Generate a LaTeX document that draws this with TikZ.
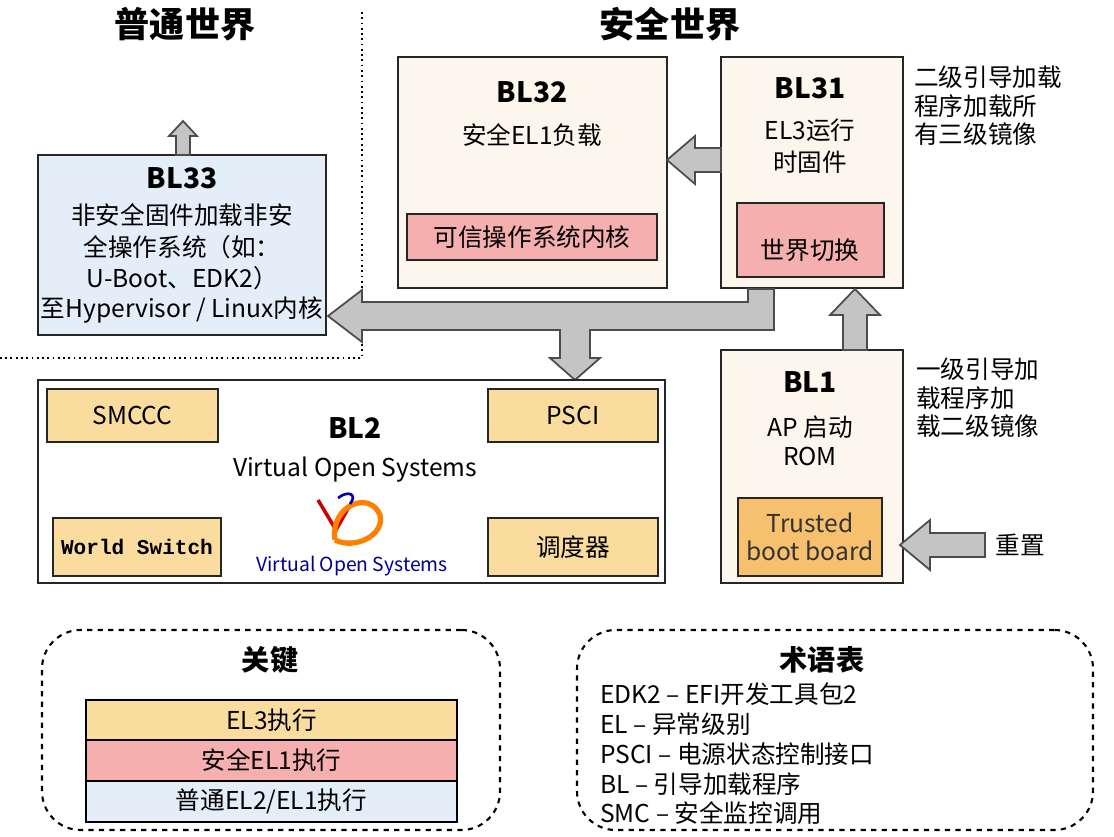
\documentclass[tikz,border=0pt]{standalone}
\usepackage{fontspec}
\setmainfont{Noto Sans CJK SC}
\newfontfamily\monof{Liberation Mono}
\usetikzlibrary{fit}
\definecolor{cream}{HTML}{FDF6EC}
\definecolor{lblue}{HTML}{E4EEF9}
\definecolor{lpink}{HTML}{F6AFAF}
\definecolor{lorange}{HTML}{F9DC9E}
\definecolor{dorange}{HTML}{F7C06E}
\definecolor{agray}{HTML}{C4C4C4}
\tikzset{
  box/.style={draw=black!85, line width=1.2pt, inner sep=0pt},
  ttl/.style={font=\fontsize{16}{18}\selectfont\bfseries},
  txt/.style={font=\fontsize{14}{16}\selectfont},
  hdr/.style={font=\fontsize{20}{22}\selectfont\bfseries},
  barr/.style={fill=agray, draw=black!70, line width=1pt, line join=miter},
  dashbox/.style={draw, dashed, line width=1.2pt, rounded corners=22pt}
}
\begin{document}
\begin{tikzpicture}[x=0.02cm,y=-0.02cm]
\useasboundingbox (0,0) rectangle (1114,837);
% headers and world divider
\node[hdr] (hn) at (185,24) {普通世界};
\node[hdr] (hs) at (670,24) {安全世界};
\draw[dotted, line width=1pt] (362,12) -- (362,358) -- (0,358);
% BL33
\node[box, fill=lblue, fit={(38,155) (326,335)}] (bl33) {};
\node[ttl] at (182,178) {BL33};
\node[txt] at (182,215) {非安全固件加载非安};
\node[txt] at (182,247) {全操作系统（如：};
\node[txt] at (182,278) {U-Boot、EDK2）};
\node[txt] at (182,310) {至Hypervisor / Linux内核};
\draw[barr] (176,155) -- (176,136) -- (169,136) -- (183,121) -- (197,136) -- (190,136) -- (190,155) -- cycle;
% BL32
\node[box, fill=cream, fit={(398,57) (667,288)}] (bl32) {};
\node[ttl] at (532,92) {BL32};
\node[txt] at (532,135) {安全EL1负载};
\node[box, fill=lpink, line width=0.8pt, fit={(407,214) (657,260)}] (tos) {};
\node[txt] at (tos) {可信操作系统内核};
% BL31
\node[box, fill=cream, fit={(721,57) (903,288)}] (bl31) {};
\node[ttl] at (810,88) {BL31};
\node[txt] at (810,130) {EL3运行};
\node[txt] at (810,162) {时固件};
\node[box, fill=lpink, line width=0.8pt, fit={(737,203) (884,277)}] (ws) {};
\node[txt] at (810,250) {世界切换};
\node[txt, align=left, anchor=north west] at (908,60) {二级引导加载\\程序加载所\\有三级镜像};
\draw[barr] (721,148) -- (695,148) -- (695,136) -- (667,160) -- (695,184) -- (695,172) -- (721,172) -- cycle;
% big L-arrow
\draw[barr] (748,289) -- (774,289) -- (774,330) -- (590,330) -- (590,358) -- (600,358) -- (575,380) -- (550,358) -- (560,358) -- (560,330) -- (362,330) -- (362,342) -- (328,316) -- (362,290) -- (362,302) -- (748,302) -- cycle;
% BL2
\node[box, fill=white, fit={(38,380) (665,583)}] (bl2) {};
\node[ttl] at (355,428) {BL2};
\node[txt] at (355,470) {Virtual Open Systems};
\node[box, fill=lorange, line width=0.8pt, fit={(47,389) (218,442)}] (smccc) {};
\node[txt] at (smccc) {SMCCC};
\node[box, fill=lorange, line width=0.8pt, fit={(488,389) (658,442)}] (psci) {};
\node[txt] at (psci) {PSCI};
\node[box, fill=lorange, line width=0.8pt, fit={(53,518) (221,576)}] (wsw) {};
\node[font=\monof\bfseries\fontsize{12}{14}\selectfont] at (wsw) {World Switch};
\node[box, fill=lorange, line width=0.8pt, fit={(488,518) (658,576)}] (sched) {};
\node[txt] at (sched) {调度器};
% logo
\draw[red!80!black, line width=2pt] (318,500) -- (336,530) -- (350,505);
\draw[orange, line width=3pt] (335,540) .. controls (330,505) and (370,490) .. (380,515) .. controls (385,535) and (355,550) .. (335,540);
\draw[blue!70!black, line width=1.5pt] (338,498) .. controls (348,490) and (358,494) .. (350,504);
\node[font=\fontsize{11}{13}\selectfont, text=blue!55!black] at (352,566) {Virtual Open Systems};
% BL1
\node[box, fill=cream, fit={(721,350) (903,583)}] (bl1) {};
\node[ttl] at (810,382) {BL1};
\node[txt] at (810,427) {AP 启动};
\node[txt] at (810,456) {ROM};
\node[box, fill=dorange, line width=0.8pt, fit={(738,498) (882,576)}] (tbb) {};
\node[txt, align=center, text=black!80] at (tbb) {Trusted\\boot board};
\node[txt, align=left, anchor=north west] at (910,352) {一级引导加\\载程序加\\载二级镜像};
\draw[barr] (843,350) -- (843,315) -- (830,315) -- (855,289) -- (880,315) -- (867,315) -- (867,350) -- cycle;
\node[txt] (rst) at (1020,545) {重置};
\draw[barr] (985,533) -- (930,533) -- (930,520) -- (900,545) -- (930,570) -- (930,557) -- (985,557) -- cycle;
% key
\node[dashbox, fit={(42,630) (500,830)}, inner sep=0pt] (key) {};
\node[ttl] at (270,660) {关键};
\node[draw, line width=0.8pt, fill=lorange, fit={(86,700) (457,740)}, inner sep=0pt] (k1) {};
\node[txt] at (k1) {EL3执行};
\node[draw, line width=0.8pt, fill=lpink, fit={(86,740) (457,781)}, inner sep=0pt] (k2) {};
\node[txt] at (k2) {安全EL1执行};
\node[draw, line width=0.8pt, fill=lblue, fit={(86,781) (457,822)}, inner sep=0pt] (k3) {};
\node[txt] at (k3) {普通EL2/EL1执行};
% glossary
\node[dashbox, fit={(577,630) (1093,830)}, inner sep=0pt] (glo) {};
\node[ttl] at (822,660) {术语表};
\node[txt, anchor=west] at (594,694) {EDK2 – EFI开发工具包2};
\node[txt, anchor=west] at (594,724) {EL – 异常级别};
\node[txt, anchor=west] at (594,754) {PSCI – 电源状态控制接口};
\node[txt, anchor=west] at (594,784) {BL – 引导加载程序};
\node[txt, anchor=west] at (594,813) {SMC – 安全监控调用};
\end{tikzpicture}
\end{document}
